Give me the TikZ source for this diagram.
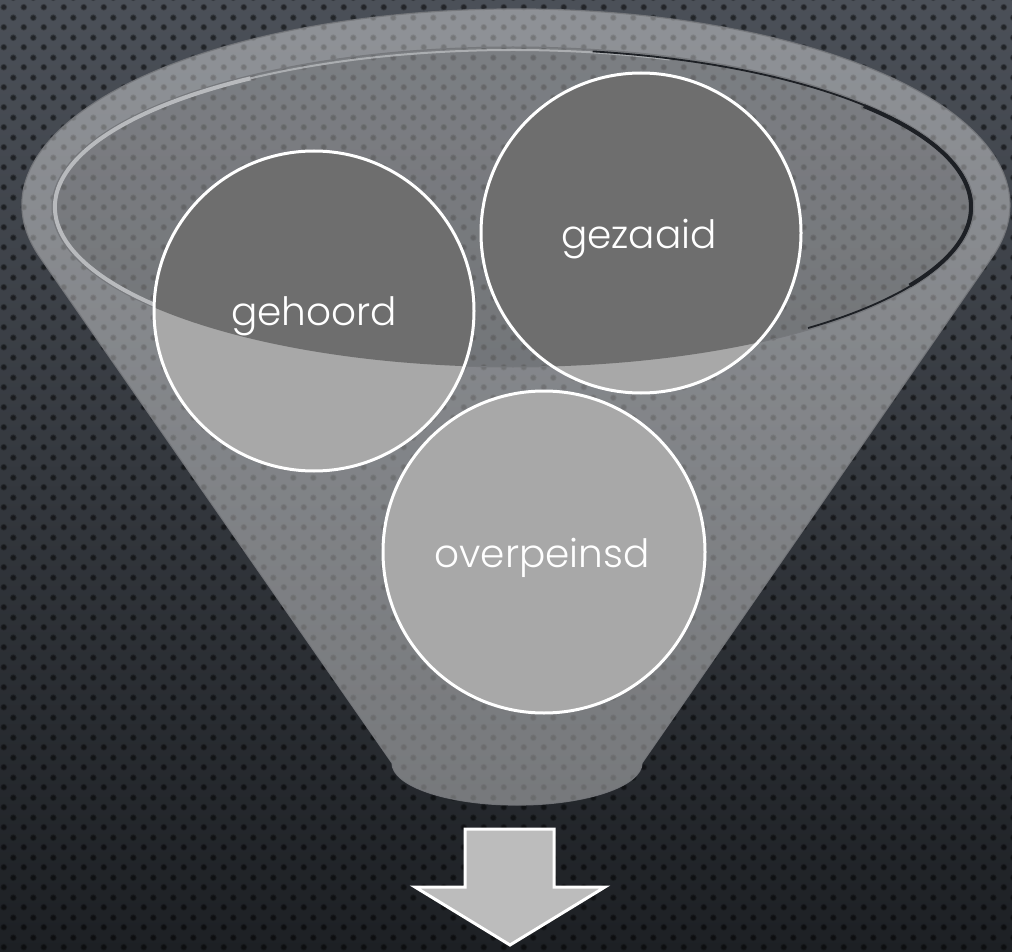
\documentclass[tikz,border=0pt]{standalone}
\usepackage{fontspec}
\newfontfamily\lblfont{Poppins Light}
\usetikzlibrary{patterns}
\pgfdeclarepatternformonly{bgdotsbig}{\pgfqpoint{0pt}{0pt}}{\pgfqpoint{20pt}{20pt}}{\pgfqpoint{20pt}{20pt}}{%
  \pgfpathcircle{\pgfqpoint{5pt}{5pt}}{3.5pt}%
  \pgfpathcircle{\pgfqpoint{15pt}{15pt}}{3.5pt}%
  \pgfusepath{fill}}
\pgfdeclarepatternformonly{bgdotssmall}{\pgfqpoint{0pt}{0pt}}{\pgfqpoint{20pt}{20pt}}{\pgfqpoint{20pt}{20pt}}{%
  \pgfpathcircle{\pgfqpoint{5pt}{5pt}}{2.4pt}%
  \pgfpathcircle{\pgfqpoint{15pt}{15pt}}{2.4pt}%
  \pgfusepath{fill}}
\definecolor{bgtop}{HTML}{4B5058}
\definecolor{bgbot}{HTML}{1D2024}
\definecolor{circfill}{HTML}{A8A8A8}
\definecolor{circdark}{HTML}{6E6E6E}
\definecolor{arrowfill}{HTML}{BCBCBC}
\definecolor{funneledge}{HTML}{76787C}
\definecolor{rimlight}{HTML}{B8BABD}
\definecolor{rimdark}{HTML}{1D2025}
\tikzset{
  funnelbody/.style={fill=white, fill opacity=0.38, draw=funneledge, draw opacity=0.9, line width=1.2pt},
  ring/.style={circle, draw=white, line width=3pt, minimum size=320pt, inner sep=0pt},
  lbl/.style={text=white, font=\lblfont\fontsize{39}{44}\selectfont, inner sep=0pt},
  arrowbox/.style={fill=arrowfill, draw=white, line width=3pt, line join=miter},
}
\begin{document}
\begin{tikzpicture}[x=1pt,y=-1pt]
\useasboundingbox (0,0) rectangle (1012,952);
% background
\shade[top color=bgtop, bottom color=bgbot] (0,0) rectangle (1012,952);
\fill[pattern=bgdotsbig, pattern color=black, fill opacity=0.28] (0,0) rectangle (1012,952);
\fill[pattern=bgdotssmall, pattern color=black, fill opacity=0.35] (0,0) rectangle (1012,952);
% funnel body
\path[funnelbody] (392,763) -- (39.5,256.7)
  arc[start angle=164.7, end angle=375.3, x radius=494, y radius=196]
  -- (642,763)
  arc[start angle=0, end angle=180, x radius=125, y radius=42] -- cycle;
% inner opening
\fill[black, fill opacity=0.12] (513,207) ellipse[x radius=461, y radius=160];
\draw[funneledge, line width=1pt] (513,207) ellipse[x radius=461, y radius=160];
\draw[rimlight, line width=2pt, draw opacity=0.8] (513,207) ++(230:458 and 157) arc[start angle=230, end angle=290, x radius=458, y radius=157];
\draw[rimlight, line width=4pt] (513,207) ++(110:458 and 157) arc[start angle=110, end angle=235, x radius=458, y radius=157];
\draw[rimdark, line width=1.8pt] (513,207) ++(280:459 and 158) arc[start angle=280, end angle=410, x radius=459, y radius=158];
\draw[rimdark, line width=4pt] (513,207) ++(320:458 and 157) arc[start angle=320, end angle=390, x radius=458, y radius=157];
% circles
\coordinate (p1) at (314,311);
\coordinate (p2) at (641,233);
\coordinate (p3) at (544,552);
\fill[circfill] (p1) circle[radius=160];
\fill[circfill] (p2) circle[radius=160];
\fill[circfill] (p3) circle[radius=161];
\begin{scope}
  \clip (513,207) ellipse[x radius=461, y radius=160];
  \fill[circdark] (p1) circle[radius=160];
  \fill[circdark] (p2) circle[radius=160];
\end{scope}
\node[ring] (c1) at (p1) {};
\node[ring] (c2) at (p2) {};
\node[ring, minimum size=322pt] (c3) at (p3) {};
\node[lbl, anchor=base] (t1) at (314,325) {gehoord};
\node[lbl, anchor=base] (t2) at (639,248) {gezaaid};
\node[lbl, anchor=base] (t3) at (542,567) {overpeinsd};
% arrow
\draw[arrowbox] (465,829) -- (554,829) -- (554,887) -- (605,887) -- (510,945) -- (415,887) -- (465,887) -- cycle;
\end{tikzpicture}
\end{document}
